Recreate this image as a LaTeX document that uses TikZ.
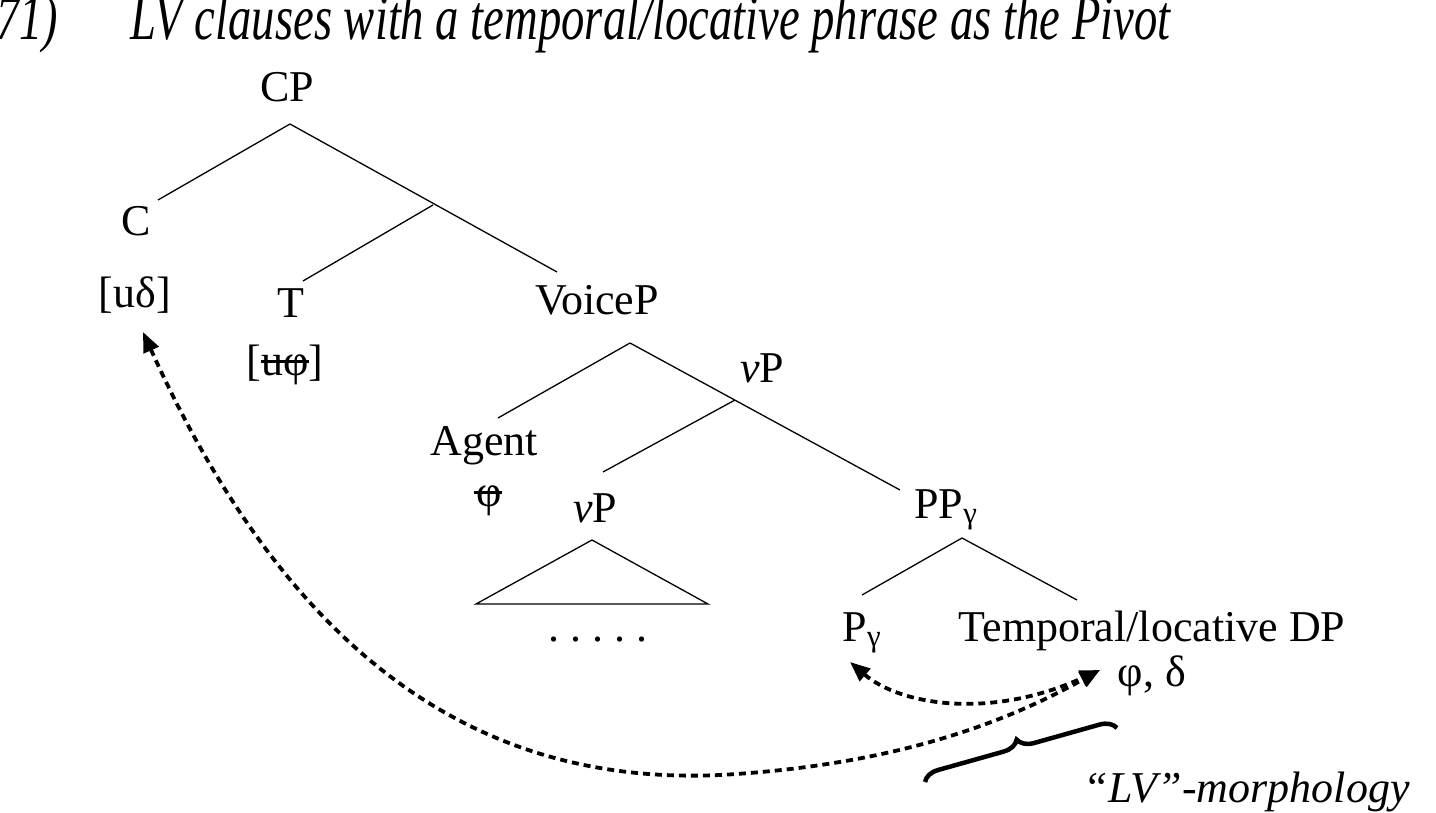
\documentclass[tikz,border=0pt]{standalone}
\usepackage{fontspec}
\setmainfont{Liberation Serif}
\usetikzlibrary{decorations.pathreplacing,arrows.meta}
\newcommand{\strk}[1]{\setbox0\hbox{#1}\rlap{\rule[0.28em]{\wd0}{0.05em}}#1}
\begin{document}
\begin{tikzpicture}[x=1pt,y=-1pt, line width=1.3pt,
  lab/.style={font=\fontsize{44}{44}\selectfont, inner sep=0pt, anchor=base},
  arr/.style={line width=3.8pt, dash pattern=on 7pt off 5pt, {Triangle[length=20pt,width=16pt]}-{Triangle[length=20pt,width=16pt]}}]
\useasboundingbox (0,0) rectangle (1436,813);
\clip (0,0) rectangle (1436,813);
\node[lab, anchor=base west] (num) at (-4,40) {\itshape\scalebox{1.05}[1.45]{71)}};
\node[lab, anchor=base west] (title) at (130,40) {\itshape\scalebox{1.06}[1.45]{LV clauses with a temporal/locative phrase as the Pivot}};
\node[lab] (CP) at (287,102) {CP};
\node[lab] (C) at (136,236) {C};
\node[lab] (ud) at (135,308) {[uδ]};
\node[lab] (T) at (291,318) {T};
\node[lab] (uphi) at (285,375) {[\strk{uφ}]};
\node[lab] (VoiceP) at (597,314) {VoiceP};
\node[lab] (vP1) at (762,382) {\textit{v}P};
\node[lab] (Agent) at (484,455) {Agent};
\node[lab] (aphi) at (488,506) {\strk{\hspace{3pt}φ}};
\node[lab] (vP2) at (595,522) {\textit{v}P};
\node[lab] (PP) at (946,518) {PP\textsubscript{γ}};
\node[lab] (Pg) at (862,641) {P\textsubscript{γ}};
\node[lab] (DP) at (1152,641) {Temporal/locative DP};
\node[lab] (pd) at (1152,686) {φ, δ};
\node[lab] (dots) at (598,641) {.\ .\ .\ .\ .};
\node[lab, anchor=base west] (morph) at (1083,802) {\itshape “LV”-morphology};
\coordinate (cpb) at (290,124);
\coordinate (b1) at (433,205);
\coordinate (vb) at (630,343);
\coordinate (b2) at (735,400);
\coordinate (pb) at (962,538);
\draw (cpb) -- (158,200);
\draw (cpb) -- (557,272);
\draw (b1) -- (303,281);
\draw (vb) -- (498,418);
\draw (vb) -- (900,490);
\draw (b2) -- (603,472);
\draw (pb) -- (862,595);
\draw (pb) -- (1077,600);
\draw (592,540) -- (476,604) -- (708,604) -- cycle;
\coordinate (e1) at (143,332);
\coordinate (e2) at (1100,670);
\coordinate (e3) at (850,662);
\draw[arr] (e1) .. controls (300,680) and (500,785) .. (720,775) .. controls (900,765) and (1010,720) .. (e2);
\draw[arr] (e3) .. controls (900,705) and (990,720) .. (e2);
\coordinate (bl) at (925,782);
\coordinate (brr) at (1117,728);
\draw[line width=4.5pt, decorate, decoration={brace, amplitude=16pt}] (bl) -- (brr);
\end{tikzpicture}
\end{document}
